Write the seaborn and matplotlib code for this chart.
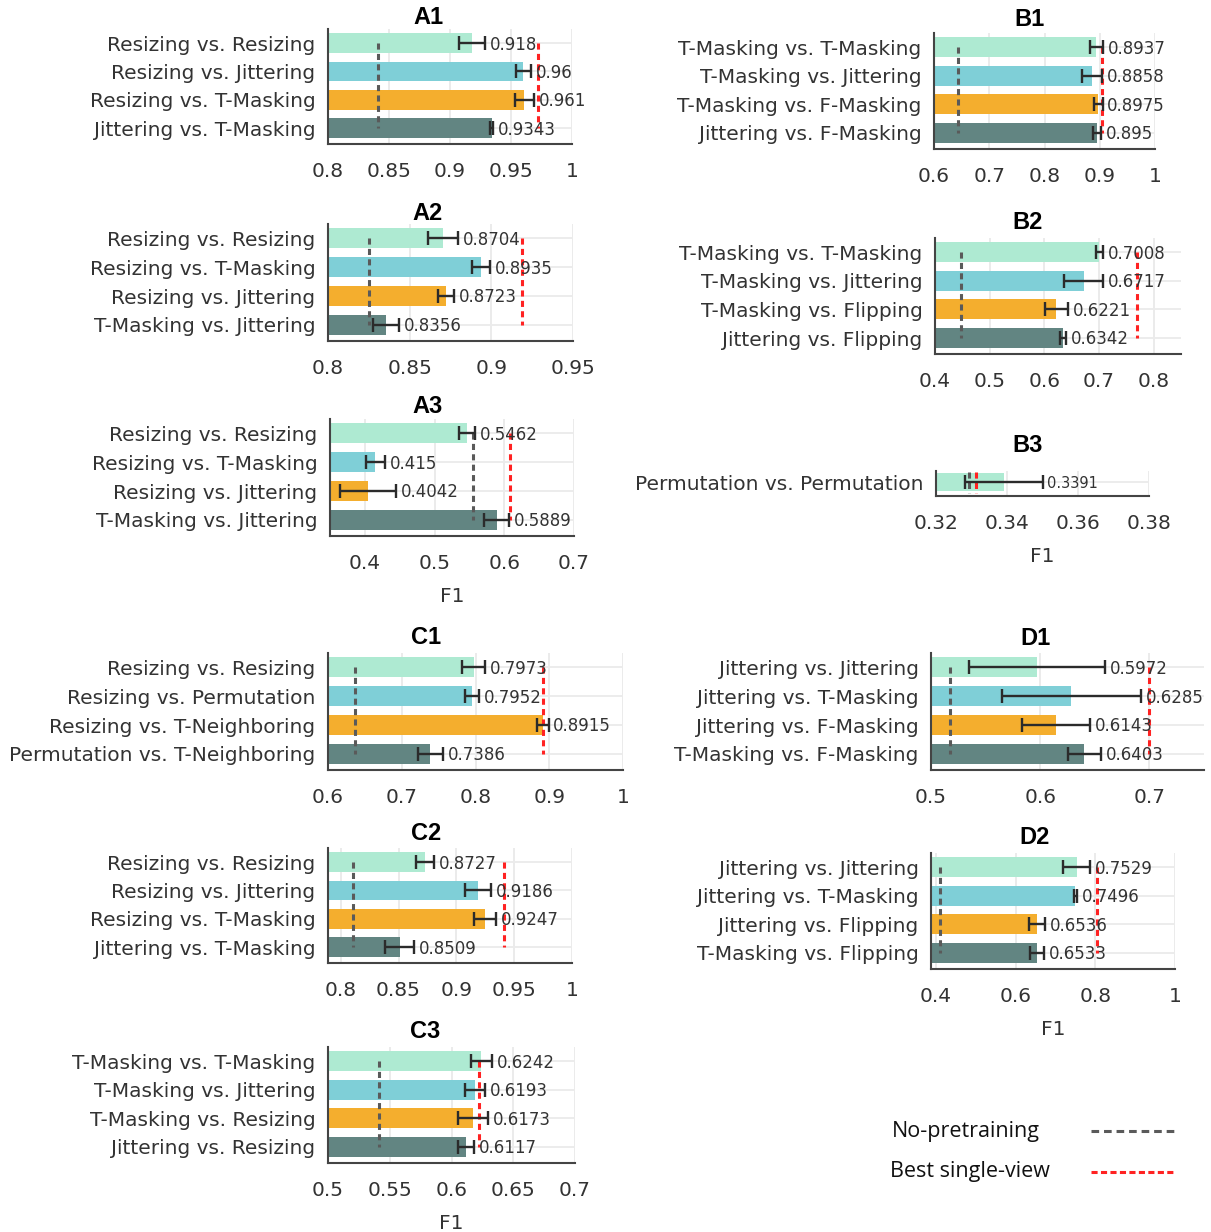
import matplotlib
matplotlib.use("Agg")
import matplotlib.pyplot as plt
from matplotlib.lines import Line2D
import pandas as pd
import seaborn as sns

# ---------------- data ----------------
a1_pairs = ["Resizing vs. Resizing", "Resizing vs. Jittering", "Resizing vs. T-Masking", "Jittering vs. T-Masking"]
a1_f1 = [0.918, 0.96, 0.961, 0.9343]
a1_err = [0.0105, 0.006, 0.008, 0.0012]
a1_nopre, a1_best = 0.841, 0.972

a2_pairs = ["Resizing vs. Resizing", "Resizing vs. T-Masking", "Resizing vs. Jittering", "T-Masking vs. Jittering"]
a2_f1 = [0.8704, 0.8935, 0.8723, 0.8356]
a2_err = [0.009, 0.0055, 0.005, 0.008]
a2_nopre, a2_best = 0.825, 0.919

a3_pairs = ["Resizing vs. Resizing", "Resizing vs. T-Masking", "Resizing vs. Jittering", "T-Masking vs. Jittering"]
a3_f1 = [0.5462, 0.415, 0.4042, 0.5889]
a3_err = [0.0115, 0.014, 0.04, 0.018]
a3_nopre, a3_best = 0.555, 0.608

b1_pairs = ["T-Masking vs. T-Masking", "T-Masking vs. Jittering", "T-Masking vs. F-Masking", "Jittering vs. F-Masking"]
b1_f1 = [0.8937, 0.8858, 0.8975, 0.895]
b1_err = [0.0115, 0.018, 0.0075, 0.007]
b1_nopre, b1_best = 0.643, 0.904

b2_pairs = ["T-Masking vs. T-Masking", "T-Masking vs. Jittering", "T-Masking vs. Flipping", "Jittering vs. Flipping"]
b2_f1 = [0.7008, 0.6717, 0.6221, 0.6342]
b2_err = [0.006, 0.0355, 0.021, 0.005]
b2_nopre, b2_best = 0.447, 0.769

b3_pairs = ["Permutation vs. Permutation"]
b3_f1 = [0.3391]
b3_err = [0.0109]
b3_nopre, b3_best = 0.3292, 0.3312

c1_pairs = ["Resizing vs. Resizing", "Resizing vs. Permutation", "Resizing vs. T-Neighboring", "Permutation vs. T-Neighboring"]
c1_f1 = [0.7973, 0.7952, 0.8915, 0.7386]
c1_err = [0.0155, 0.01, 0.0075, 0.017]
c1_nopre, c1_best = 0.636, 0.891

c2_pairs = ["Resizing vs. Resizing", "Resizing vs. Jittering", "Resizing vs. T-Masking", "Jittering vs. T-Masking"]
c2_f1 = [0.8727, 0.9186, 0.9247, 0.8509]
c2_err = [0.008, 0.0115, 0.0095, 0.0125]
c2_nopre, c2_best = 0.811, 0.941

c3_pairs = ["T-Masking vs. T-Masking", "T-Masking vs. Jittering", "T-Masking vs. Resizing", "Jittering vs. Resizing"]
c3_f1 = [0.6242, 0.6193, 0.6173, 0.6117]
c3_err = [0.0085, 0.008, 0.012, 0.0065]
c3_nopre, c3_best = 0.541, 0.6225

d1_pairs = ["Jittering vs. Jittering", "Jittering vs. T-Masking", "Jittering vs. F-Masking", "T-Masking vs. F-Masking"]
d1_f1 = [0.5972, 0.6285, 0.6143, 0.6403]
d1_err = [0.062, 0.0635, 0.031, 0.015]
d1_nopre, d1_best = 0.517, 0.70

d2_pairs = ["Jittering vs. Jittering", "Jittering vs. T-Masking", "Jittering vs. Flipping", "T-Masking vs. Flipping"]
d2_f1 = [0.7529, 0.7496, 0.6536, 0.6533]
d2_err = [0.033, 0.004, 0.019, 0.017]
d2_nopre, d2_best = 0.41, 0.805

legend_labels = ["No-pretraining", "Best single-view"]

# ---------------- style ----------------
bar_colors = ["#aeead2", "#7fcfd7", "#f4ae2e", "#628582"]
nopre_color = "#5a5a5a"
best_color = "#ff2222"
text_color = "#333333"
axis_color = "#444444"

sns.set_style("white")
plt.rcParams["font.family"] = ["DejaVu Sans"]

W, H = 1211, 1232
fig = plt.figure(figsize=(W / 100, H / 100), dpi=100)


def px_axes(l, t, r, b):
    return fig.add_axes([l / W, 1 - b / H, (r - l) / W, (b - t) / H])


def draw_panel(box, pairs, f1, err, nopre, best, xlim, xticks,
               title, title_xy, xlabel=False, value_size=12):
    ax = px_axes(*box)
    n = len(pairs)
    df = pd.DataFrame({"pair": pairs, "F1": f1})
    sns.barplot(data=df, x="F1", y="pair", hue="pair", palette=bar_colors[:n],
                orient="h", errorbar=None, width=0.7, saturation=1,
                legend=False, ax=ax, linewidth=0)
    ys = list(range(n))
    ax.errorbar(f1, ys, xerr=err, fmt="none", ecolor="#2b2b2b",
                elinewidth=1.7, capsize=5, capthick=1.7, zorder=4)

    y0, y1 = (0, n - 1) if n > 1 else (-0.4, 0.4)
    ax.plot([nopre, nopre], [y0, y1], color=nopre_color, lw=2.2,
            ls=(0, (2.0, 1.4)), zorder=3)
    ax.plot([best, best], [y0, y1], color=best_color, lw=2.2,
            ls=(0, (2.0, 1.4)), zorder=3)

    for v, e, y in zip(f1, err, ys):
        ax.annotate(f"{v:g}", xy=(v + e, y), xytext=(3.5, -1),
                    textcoords="offset points", ha="left", va="center",
                    fontsize=value_size, color=text_color, zorder=5)

    ax.set_xlim(*xlim)
    if n > 1:
        ax.set_ylim(n - 0.44, -0.5)
    else:
        ax.set_ylim(0.52, -0.42)
    ax.set_xticks(xticks)
    ax.set_xticklabels([f"{t:g}" for t in xticks])
    ax.set_yticks(ys)
    ax.set_yticklabels(pairs, fontsize=14.5)
    ax.set_ylabel("")
    ax.set_xlabel("F1" if xlabel else "", fontsize=14.5, color=text_color, labelpad=10)

    for s in ["top", "right"]:
        ax.spines[s].set_visible(False)
    for s in ["left", "bottom"]:
        ax.spines[s].set_color(axis_color)
        ax.spines[s].set_linewidth(1.5)
    ax.tick_params(axis="both", direction="out", length=6, width=1.3,
                   color=axis_color, labelcolor=text_color)
    ax.tick_params(axis="x", pad=7, labelsize=14.5)
    ax.tick_params(axis="y", pad=3)
    ax.set_axisbelow(True)
    ax.grid(True, axis="x", color="#e6e6e6", lw=1.1)
    ax.grid(True, axis="y", color="#ececec", lw=1.4)

    fig.text(title_xy[0] / W, 1 - title_xy[1] / H, title, ha="center", va="center",
             fontsize=17, fontweight="bold", family="Liberation Sans", color="black")
    return ax


draw_panel((328, 29, 572, 144), a1_pairs, a1_f1, a1_err, a1_nopre, a1_best,
           (0.8, 1.0), [0.8, 0.85, 0.9, 0.95, 1.0], "A1", (428, 18))
draw_panel((328, 224, 573, 341), a2_pairs, a2_f1, a2_err, a2_nopre, a2_best,
           (0.8, 0.95), [0.8, 0.85, 0.9, 0.95], "A2", (428, 213))
draw_panel((330, 419, 574, 536), a3_pairs, a3_f1, a3_err, a3_nopre, a3_best,
           (0.35, 0.7), [0.4, 0.5, 0.6, 0.7], "A3", (428, 407), xlabel=True)

draw_panel((934, 33, 1155, 149), b1_pairs, b1_f1, b1_err, b1_nopre, b1_best,
           (0.6, 1.0), [0.6, 0.7, 0.8, 0.9, 1.0], "B1", (1029, 19))
draw_panel((935, 238, 1181, 354), b2_pairs, b2_f1, b2_err, b2_nopre, b2_best,
           (0.4, 0.85), [0.4, 0.5, 0.6, 0.7, 0.8], "B2", (1028, 223))
draw_panel((936, 471, 1149, 496), b3_pairs, b3_f1, b3_err, b3_nopre, b3_best,
           (0.32, 0.38), [0.32, 0.34, 0.36, 0.38], "B3", (1028, 446),
           xlabel=True, value_size=10.5)

draw_panel((328, 653, 623, 770), c1_pairs, c1_f1, c1_err, c1_nopre, c1_best,
           (0.6, 1.0), [0.6, 0.7, 0.8, 0.9, 1.0], "C1", (426, 637))
draw_panel((328, 848, 572, 963), c2_pairs, c2_f1, c2_err, c2_nopre, c2_best,
           (0.789, 1.0), [0.8, 0.85, 0.9, 0.95, 1.0], "C2", (426, 834))
draw_panel((328, 1047, 575, 1163), c3_pairs, c3_f1, c3_err, c3_nopre, c3_best,
           (0.5, 0.7), [0.5, 0.55, 0.6, 0.65, 0.7], "C3", (425, 1032), xlabel=True)

draw_panel((931, 653, 1204, 770), d1_pairs, d1_f1, d1_err, d1_nopre, d1_best,
           (0.5, 0.75), [0.5, 0.6, 0.7], "D1", (1035, 638))
draw_panel((931, 853, 1175, 969), d2_pairs, d2_f1, d2_err, d2_nopre, d2_best,
           (0.3875, 1.0), [0.4, 0.6, 0.8, 1.0], "D2", (1035, 838), xlabel=True)

# ---------------- legend for the reference lines ----------------
legend_styles = [
    (nopre_color, (0, (2.5, 1.6)), 966, 1131),
    (best_color, (0, (2.0, 1.1)), 970, 1172),
]
for label, (color, ls, tx, ty) in zip(legend_labels, legend_styles):
    fig.text(tx / W, 1 - ty / H, label, ha="center", va="center",
             fontsize=15.5, family="Open Sans", color="#111111")
    fig.add_artist(Line2D([1091 / W, 1175 / W], [1 - ty / H, 1 - ty / H],
                          transform=fig.transFigure, color=color, lw=2.2, ls=ls))

fig.savefig("out.png", dpi=100)
